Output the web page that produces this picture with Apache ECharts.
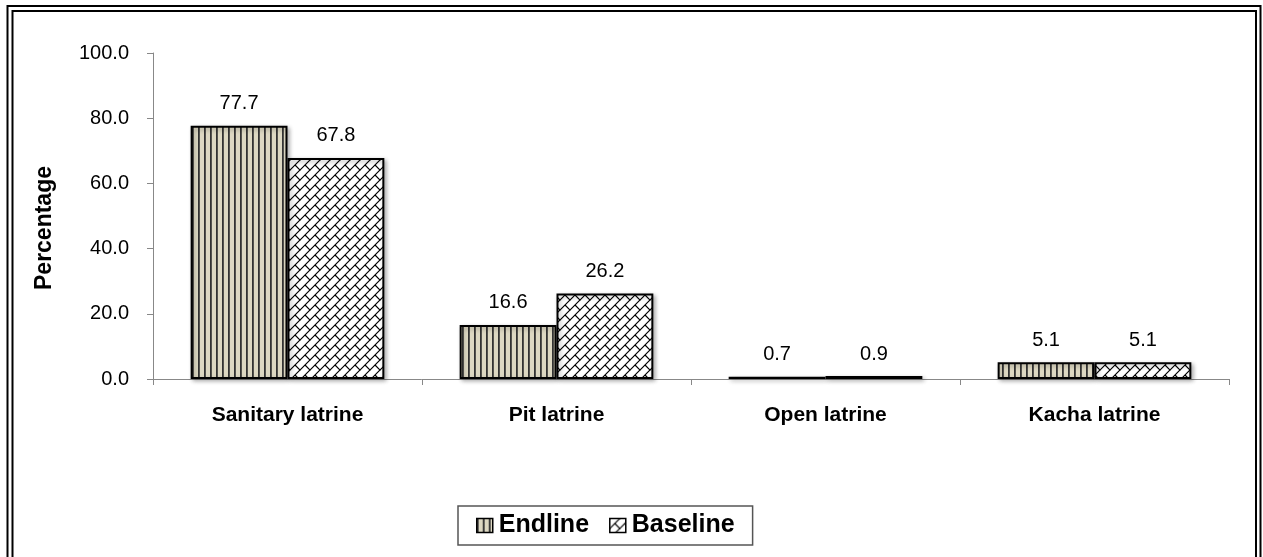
<!DOCTYPE html>
<html>
<head>
<meta charset="utf-8">
<script src="https://cdn.jsdelivr.net/npm/echarts@6/dist/echarts.min.js"></script>
<style>
  html, body { margin: 0; padding: 0; background: #fff; }
  #chart { width: 1263px; height: 557px; }
</style>
</head>
<body>
<div id="chart"></div>
<script>
const categories = ['Sanitary latrine', 'Pit latrine', 'Open latrine', 'Kacha latrine'];
const endline = [77.7, 16.6, 0.7, 5.1];
const baseline = [67.8, 26.2, 0.9, 5.1];
const seriesNames = ['Endline', 'Baseline'];
const yTicks = { min: 0, max: 100, interval: 20 };

function stripePattern() {
  const c = document.createElement('canvas');
  c.width = 6; c.height = 6;
  const g = c.getContext('2d');
  g.fillStyle = '#ddd8c2';
  g.fillRect(0, 0, 6, 6);
  g.fillStyle = '#333333';
  g.fillRect(0, 0, 1.8, 6);
  return c;
}
function brickPattern() {
  const p = 10;
  const c = document.createElement('canvas');
  c.width = p; c.height = p;
  const g = c.getContext('2d');
  g.fillStyle = '#ffffff';
  g.fillRect(0, 0, p, p);
  g.strokeStyle = '#000000';
  g.lineWidth = 1.2;
  g.beginPath();
  g.moveTo(-1, p + 1); g.lineTo(p + 1, -1);
  g.moveTo(-1, 1); g.lineTo(1, -1);
  g.moveTo(p - 1, p + 1); g.lineTo(p + 1, p - 1);
  g.moveTo(p / 2, p / 2); g.lineTo(p + 1, p + 1);
  g.moveTo(-1, -1); g.lineTo(0.5, 0.5);
  g.stroke();
  return c;
}

const endFill = { image: stripePattern(), repeat: 'repeat' };
const baseFill = { image: brickPattern(), repeat: 'repeat' };

const FONT = 'Liberation Sans, Arial, sans-serif';
const chart = echarts.init(document.getElementById('chart'), null, { renderer: 'canvas' });
const labelStyle = {
  show: true, position: 'top', distance: 12,
  fontFamily: FONT, fontSize: 20, color: '#000',
  formatter: p => p.value.toFixed(1)
};
const barStyle = (fill) => ({
  color: fill, borderColor: '#000', borderWidth: 2,
  shadowColor: 'rgba(0,0,0,0.3)', shadowBlur: 4, shadowOffsetX: 2, shadowOffsetY: 2
});

chart.setOption({
  animation: false,
  backgroundColor: '#fff',
  grid: { left: 153, right: 34, top: 53, bottom: 178, containLabel: false },
  legend: {
    data: seriesNames,
    left: 458, top: 506,
    orient: 'horizontal',
    padding: [7, 18, 7, 18],
    itemGap: 20,
    itemWidth: 16, itemHeight: 14,
    borderColor: '#555', borderWidth: 1.5,
    icon: 'rect',
    itemStyle: { borderWidth: 1.5, borderColor: '#000', shadowBlur: 0, shadowOffsetX: 0, shadowOffsetY: 0 },
    textStyle: { fontFamily: FONT, fontSize: 25, fontWeight: 'bold', color: '#000', padding: [0, 0, 0, 1] }
  },
  xAxis: {
    type: 'category',
    data: categories,
    axisLine: { show: true, lineStyle: { color: '#888', width: 1 } },
    axisTick: { show: true, alignWithLabel: false, length: 6, lineStyle: { color: '#888' } },
    axisLabel: { margin: 26, fontFamily: FONT, fontSize: 21, fontWeight: 'bold', color: '#000' },
    splitLine: { show: false }
  },
  yAxis: {
    type: 'value',
    min: yTicks.min, max: yTicks.max, interval: yTicks.interval,
    axisLine: { show: true, lineStyle: { color: '#888', width: 1 } },
    axisTick: { show: true, length: 6, lineStyle: { color: '#888' } },
    axisLabel: { margin: 24, fontFamily: FONT, fontSize: 20, color: '#000', formatter: v => v.toFixed(1) },
    splitLine: { show: false }
  },
  graphic: [
    { type: 'rect', shape: { x: 7.5, y: 6, width: 1253, height: 600 }, style: { fill: 'none', stroke: '#000', lineWidth: 2 }, silent: true },
    { type: 'rect', shape: { x: 12.5, y: 11, width: 1243.5, height: 600 }, style: { fill: 'none', stroke: '#000', lineWidth: 2 }, silent: true },
    { type: 'text', x: 45, y: 228, rotation: Math.PI / 2,
      style: { text: 'Percentage', textAlign: 'center', textVerticalAlign: 'middle',
               font: 'bold 23px "Liberation Sans", Arial, sans-serif', fill: '#000' } }
  ],
  series: [
    { name: seriesNames[0], type: 'bar', data: endline, barGap: '0%', barCategoryGap: '28%',
      itemStyle: barStyle(endFill), label: labelStyle },
    { name: seriesNames[1], type: 'bar', data: baseline, barGap: '0%', barCategoryGap: '28%',
      itemStyle: barStyle(baseFill), label: labelStyle }
  ]
});
</script>
</body>
</html>
